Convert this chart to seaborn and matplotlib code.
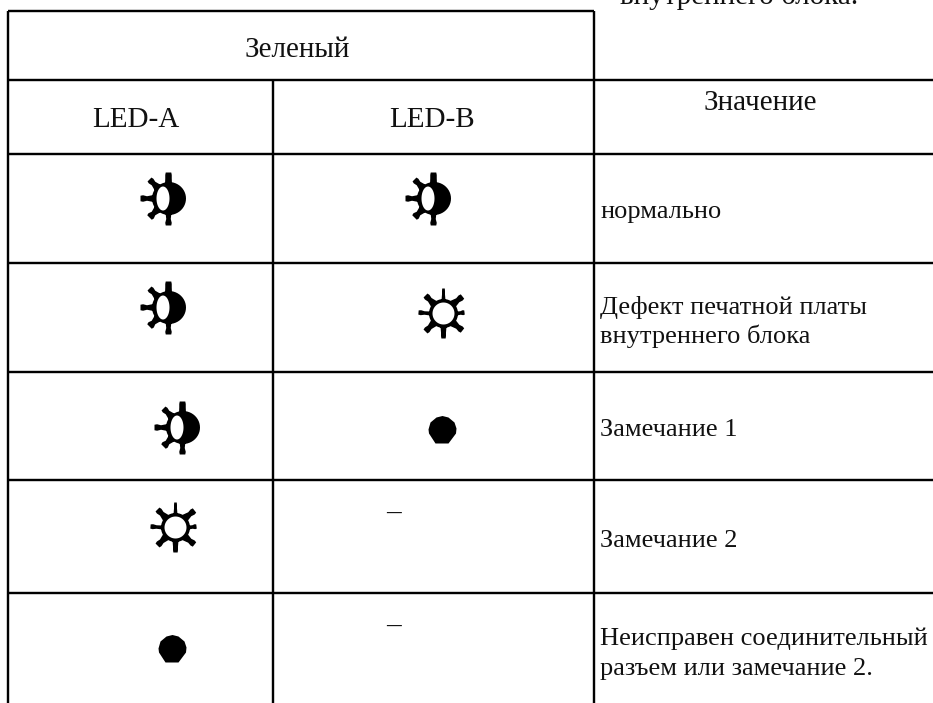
import numpy as np
import pandas as pd
import matplotlib
matplotlib.use("Agg")
import matplotlib.pyplot as plt
from matplotlib.path import Path
import seaborn as sns

# table content
col_labels = ["LED-A", "LED-B"]
group_label = "Зеленый"
value_label = "Значение"
led_a = ["half", "half", "half", "sun", "dot"]
led_b = ["half", "sun", "dot", "-", "-"]
meanings = [
    "нормально",
    "Дефект печатной платы",
    "внутреннего блока",
    "Замечание 1",
    "Замечание 2",
    "Неисправен соединительный",
    "разъем или замечание 2.",
]
cut_text = "внутреннего блока."

# layout, in pixels of the page
w, h = 933, 703
left, mid, right = 8, 273, 594
row_y = [11, 80, 154, 263, 372, 480, 593]
a_x = [168, 168, 182, 175, 172]
a_y = [198, 307, 427, 527, 648]
b_x = [433, 443, 442, 393, 393]
b_y = [198, 313, 429, 514, 627]
meaning_base = [218, 314, 343, 436, 547, 645, 675]


def polygon(points):
    pts = np.array(points, dtype=float)
    x, y = pts[:, 0], pts[:, 1]
    area = np.sum(x * np.roll(y, -1) - np.roll(x, -1) * y)
    return pts, area


def compound(solid, holes=()):
    verts, codes = [], []
    for shape, sign in [(p, 1) for p in solid] + [(p, -1) for p in holes]:
        pts, area = polygon(shape)
        if area * sign < 0:
            pts = pts[::-1]
        verts += list(pts) + [pts[0]]
        codes += [Path.MOVETO] + [Path.LINETO] * (len(pts) - 1) + [Path.CLOSEPOLY]
    return Path(verts, codes)


def ellipse(cx, cy, rx, ry, n=48):
    t = np.radians(np.linspace(0, 360, n, endpoint=False))
    return np.column_stack([cx + rx * np.cos(t), cy + ry * np.sin(t)])


def ray(tip, base, w_base, w_mid, w_tip):
    tip, base = np.array(tip, float), np.array(base, float)
    d = tip - base
    n = np.array([-d[1], d[0]]) / np.hypot(*d)
    pos = [(0, w_base), (0.5, w_mid), (0.8, w_tip), (1, w_tip * 0.85)]
    a = [base + d * s + n * k / 2 for s, k in pos]
    b = [base + d * s - n * k / 2 for s, k in pos]
    return a + b[::-1]


half_rays = [
    ray((0, 26), (0, 14), 7, 6.5, 6.5),
    ray((-19, 19), (-11, 11), 8, 5, 6.5),
    ray((-28, 0), (-15, 0), 7, 4.5, 6.5),
    ray((-19, -19), (-11, -11), 8, 5, 7.5),
    ray((0, -27), (0, -14), 6, 4.5, 6.5),
]
half_path = compound(
    [ellipse(0.5, 0, 17, 16.5)] + half_rays,
    [ellipse(-5.5, 0, 6.5, 12)],
)
sun_rays = [
    ray((0, 25), (0, 13), 4, 3, 3),
    ray((0, -25), (0, -13), 6, 5, 5),
    ray((-25, 1), (-13, 0), 4, 3.5, 5),
    ray((21, 1), (13, 0), 4, 3.5, 5),
    ray((-18, 18), (-9.5, 9.5), 8, 5, 6.5),
    ray((19, 17), (9.5, 9.5), 8, 5, 6.5),
    ray((-18, -18), (-9.5, -9.5), 8, 5, 6.5),
    ray((19, -17), (9.5, -9.5), 8, 5, 6.5),
]
sun_path = compound([ellipse(0, 0, 14.5, 14.5)] + sun_rays, [ellipse(0, 0, 11, 11)])
dot_path = compound(
    [[(0, 13.5), (6, 12), (12, 7), (14, 1), (13.5, -4), (6, -14), (-7, -14),
      (-13.5, -4), (-14, 0), (-12, 7), (-6, 12)]]
)
icons = {"half": half_path, "sun": sun_path, "dot": dot_path}


def icon_size(path):
    # custom markers get rescaled to their largest coordinate
    return (2 * np.abs(path.vertices).max() * 72 / 100) ** 2


df = pd.concat([
    pd.DataFrame({"x": a_x, "y": a_y, "state": led_a}),
    pd.DataFrame({"x": b_x, "y": b_y, "state": led_b}),
])

sns.set_theme(style="white")
plt.rcParams["font.family"] = ["Liberation Serif", "DejaVu Serif"]

fig = plt.figure(figsize=(w / 100, h / 100), dpi=100)
ax = fig.add_axes([0, 0, 1, 1])
ax.set_xlim(0, w)
ax.set_ylim(h, 0)
ax.axis("off")

lw = 2.4 * 72 / 100
ax.hlines(row_y[0], left, right, color="black", lw=lw)
ax.hlines(row_y[1:], left, w, color="black", lw=lw)
ax.vlines(left, row_y[0], h, color="black", lw=lw)
ax.vlines(right, row_y[0], h, color="black", lw=lw)
ax.vlines(mid, row_y[1], h, color="black", lw=lw)

for state, path in icons.items():
    sub = df[df["state"] == state]
    sns.scatterplot(data=sub, x="x", y="y", marker=path, s=icon_size(path),
                    color="black", linewidth=0, ax=ax, legend=False)
ax.set_xlim(0, w)
ax.set_ylim(h, 0)

big = 21
small = 19
ink = "#111111"

for _, d in df[df["state"] == "-"].iterrows():
    ax.text(d["x"], d["y"] + 7, "–", fontsize=big, ha="center", va="baseline", color=ink)

ax.text(297, 57, group_label, fontsize=big, ha="center", va="baseline", color=ink)
ax.text(136, 127, col_labels[0], fontsize=big, ha="center", va="baseline", color=ink)
ax.text(432, 127, col_labels[1], fontsize=big, ha="center", va="baseline", color=ink)
ax.text(760, 110, value_label, fontsize=big, ha="center", va="baseline", color=ink)
ax.text(739, 4, cut_text, fontsize=big, ha="center", va="baseline", color=ink)

for y, text in zip(meaning_base, meanings):
    ax.text(600, y, text, fontsize=small, ha="left", va="baseline", color=ink)

fig.savefig("out.png", dpi=100)
